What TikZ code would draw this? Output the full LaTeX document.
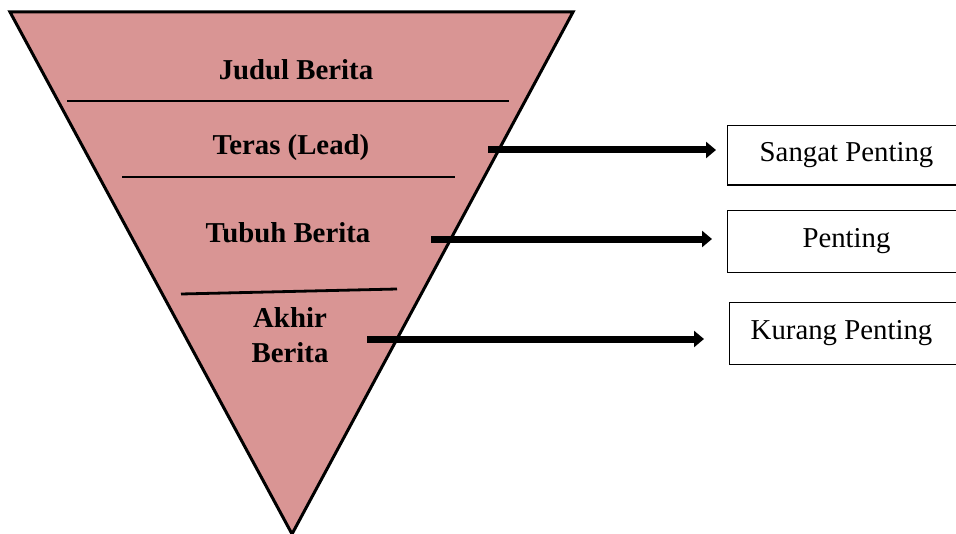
\documentclass[tikz,border=0pt]{standalone}
\usepackage{fontspec}
\setmainfont{Liberation Serif}
\usepackage{tikz}
\usetikzlibrary{arrows.meta}
\usepackage{xcolor}
\definecolor{pyramid}{RGB}{217,149,148}

\begin{document}
\begin{tikzpicture}[x=0.5pt,y=-0.5pt,
    tri/.style={fill=pyramid,draw=black,line width=1.5pt,line join=miter},
    cut/.style={draw=black,line width=1.4pt},
    part/.style={font=\fontsize{14.4}{17.5}\selectfont\bfseries,align=center},
    box/.style={draw=black,line width=0.5pt,anchor=west,minimum width=119pt,
        font=\fontsize{14.4}{17.5}\selectfont},
    arr/.style={line width=3.5pt,-{Triangle[length=5pt,width=8pt]}}]
    \useasboundingbox (0,0) rectangle (956,534);
    \draw[tri] (10,12) -- (573,12) -- (292,534) -- cycle;
    \draw[cut] (67,101) -- (509,101);
    \draw[cut] (122,177) -- (455,177);
    \draw[cut] (181,294) -- (397,289);
    \node[part] (judul) at (296,70) {Judul Berita};
    \node[part] (teras) at (291,148) {Teras (Lead)};
    \node[part] (tubuh) at (288,233) {Tubuh Berita};
    \node[part] (akhir) at (290,335) {Akhir\\Berita};
    \foreach \n/\sx/\sy/\bx/\by/\bh/\gap/\sh/\lbl in {a/488/150/727/155.5/29.5/5.5/0/Sangat Penting,
        b/431/239/727/241/31/7.5/0/Penting, c/367/339/729/333/31/12.5/7/Kurang Penting}{
        \node[box,minimum height=\bh pt] (box\n) at (\bx,\by) {\lbl\hspace*{\sh pt}};
        \coordinate (s\n) at (\sx,\sy);
        \draw[arr,shorten >=\gap pt] (s\n) -- (s\n -| box\n.west);}
\end{tikzpicture}
\end{document}
